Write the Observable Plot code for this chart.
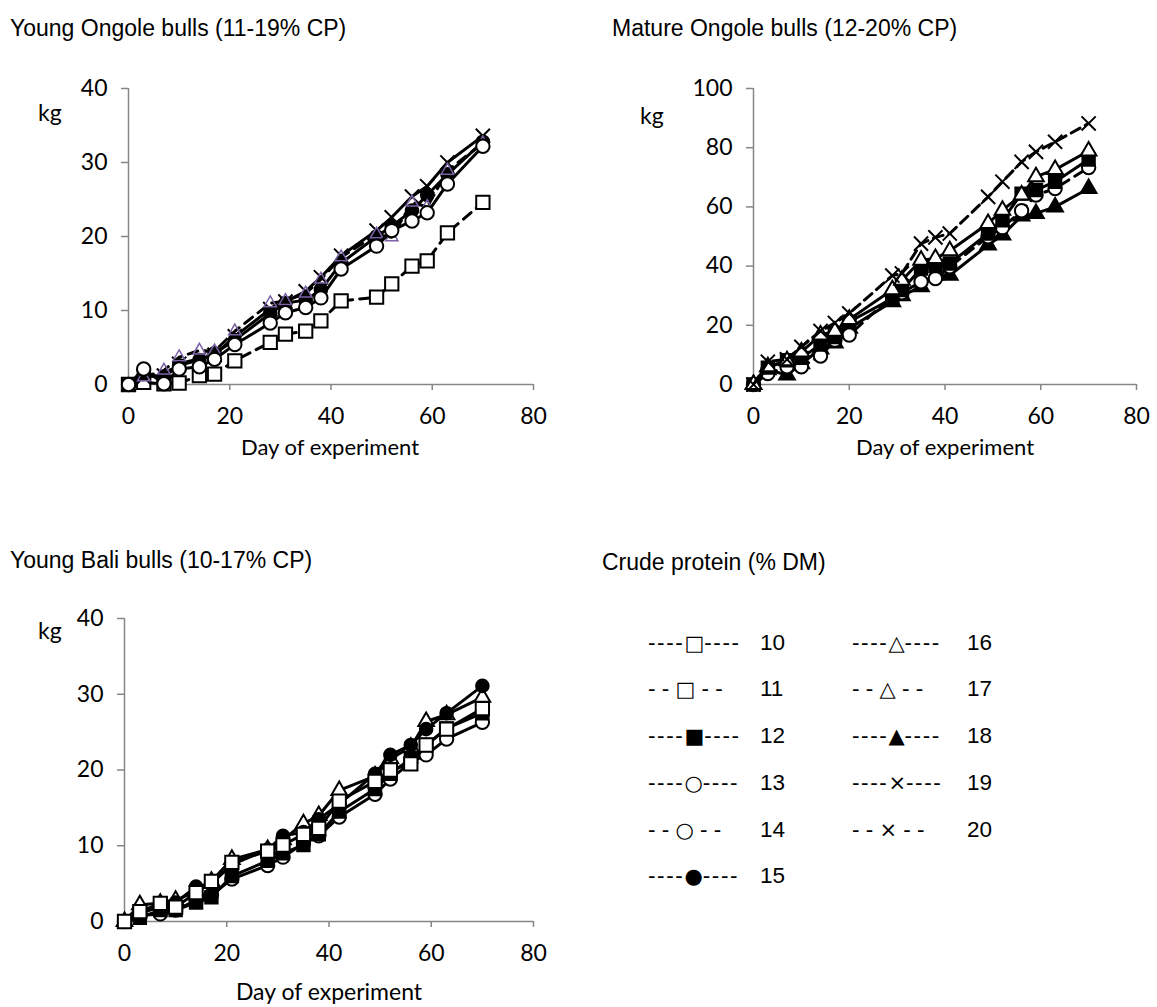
<!DOCTYPE html>
<html><head><meta charset="utf-8">
<script src="https://cdn.jsdelivr.net/npm/d3@7"></script>
<script src="https://cdn.jsdelivr.net/npm/@observablehq/plot@0.6"></script>
<style>
body{margin:0;background:#fff;}
#root{position:relative;width:1157px;height:1007px;overflow:hidden;background:#fff;}
#root > svg{position:absolute;overflow:visible;}
</style></head><body><div id="root"></div>
<script>
// ---------- data ----------
const daysA = [0,3,7,10,14,17,21,28,31,35,38,42,49,52,56,59,63,70];
const daysB = [0,3,7,10,14,17,20,29,31,35,38,41,49,52,56,59,63,70];

// Young Ongole bulls (11-19% CP)
const yo11 = [0,0.3,0.1,0.2,1.2,1.4,3.2,5.7,6.8,7.2,8.6,11.3,11.8,13.6,16.0,16.7,20.5,24.6];
const yo13 = [0,2.1,0.1,2.1,2.4,3.4,5.4,8.3,9.7,10.4,11.7,15.6,18.7,20.8,22.1,23.2,27.1,32.2];
const yo15 = [0,1.4,1.0,2.6,3.3,4.2,6.0,9.6,11.0,11.4,12.8,16.4,20.0,21.4,23.5,25.6,28.4,32.8];
const yo17 = [0,1.0,1.9,3.7,4.6,4.5,7.2,11.0,11.3,12.3,14.2,17.2,20.3,19.9,24.6,24.0,28.9,32.6];
const yo19 = [0,1.0,1.2,2.8,3.5,4.0,6.5,10.2,11.2,12.6,14.5,17.4,20.8,22.6,25.4,26.8,30.0,33.6];

// Mature Ongole bulls (12-20% CP)
const mo12 = [0,5.7,8.2,9.0,13.5,16.0,21.2,29.0,31.9,39.2,40.0,40.9,51.0,55.5,64.5,65.7,68.5,76.0];
const mo14 = [0,3.7,6.0,6.0,9.6,15.0,16.7,30.0,31.0,34.7,35.8,39.8,49.9,53.0,58.7,64.0,66.2,73.3];
const mo16 = [0,6.0,8.0,11.0,16.7,18.0,22.0,32.0,35.2,42.0,42.6,45.2,54.4,58.9,64.0,70.2,72.6,78.9];
const mo18 = [0,5.0,3.2,7.0,12.0,14.0,19.0,28.0,30.0,33.0,37.0,36.9,47.1,50.5,56.9,57.8,60.0,66.2];
const mo20 = [0,7.7,8.5,12.7,18.1,20.8,24.0,36.8,37.5,47.6,49.7,51.0,63.4,68.5,75.2,78.6,82.0,88.2];

// Young Bali bulls (10-17% CP)
const yb10 = [0,1.3,2.4,1.9,3.8,5.3,7.8,9.3,10.1,11.5,12.3,15.9,18.5,20.0,20.8,23.3,25.4,28.1];
const yb12 = [0,0.5,1.5,1.5,2.5,3.2,6.0,8.0,9.0,10.1,11.5,14.5,17.5,19.5,21.5,23.3,25.5,27.5];
const yb13 = [0,0.8,1.0,1.5,2.8,3.5,5.6,7.4,8.5,10.3,11.3,13.8,16.8,18.8,21.0,22.0,24.1,26.3];
const yb15 = [0,1.0,2.0,2.5,4.6,5.0,7.5,9.5,11.3,11.8,13.5,15.5,19.5,22.0,23.3,25.4,27.5,31.1];
const yb16 = [0,2.2,2.4,2.8,4.0,5.3,8.2,9.5,10.8,12.9,14.0,17.3,19.2,21.5,23.0,26.4,27.3,29.6];

const xTicks = [0,20,40,60,80];
const yTicksSmall = [0,10,20,30,40];
const yTicksLarge = [0,20,40,60,80,100];

const titles = ["Young Ongole bulls (11-19% CP)","Mature Ongole bulls (12-20% CP)","Young Bali bulls (10-17% CP)","Crude protein (% DM)"];
const xLabel = "Day of experiment";
const yLabel = "kg";

const legendLevels = [10,11,12,13,14,15,16,17,18,19,20];
const legendGlyphs = ["\u25A1","\u25A1","\u25A0","\u25CB","\u25CB","\u25CF","\u25B3","\u25B3","\u25B2","\u00D7","\u00D7"];
const legendDashed = [false,true,false,false,true,false,false,true,false,false,true];

// ---------- styles per CP level ----------
const styleByCP = {
  10:{symbol:"square",  fill:"white", stroke:"black", r:7.5, dash:null},
  11:{symbol:"square",  fill:"white", stroke:"black", r:7.5, dash:"10,7"},
  12:{symbol:"square",  fill:"black", stroke:"black", r:7.0, dash:null},
  13:{symbol:"circle",  fill:"white", stroke:"black", r:6.7, dash:null},
  14:{symbol:"circle",  fill:"white", stroke:"black", r:6.7, dash:"10,7"},
  15:{symbol:"circle",  fill:"black", stroke:"black", r:6.3, dash:null},
  16:{symbol:"triangle",fill:"white", stroke:"black", r:5.8, dash:null},
  17:{symbol:"triangle",fill:"none",  stroke:"#7b62a6", r:4.6, dash:"10,7", sw:1.5},
  18:{symbol:"triangle",fill:"black", stroke:"black", r:5.8, dash:null},
  19:{symbol:"times",   fill:"none",  stroke:"black", r:6.5, dash:null},
  20:{symbol:"times",   fill:"none",  stroke:"black", r:6.5, dash:"10,6"}
};

const GRAY = "#868686";
const root = document.getElementById("root");

function panel({days, series, yMax, yTicks, left, top, width, height, ml, mr, mt, mb}) {
  const marks = [
    Plot.ruleX([0], {y1: 0, y2: yMax, stroke: GRAY, strokeWidth: 1.5}),
    Plot.ruleY([0], {x1: 0, x2: 80, stroke: GRAY, strokeWidth: 1.5}),
    Plot.axisX({ticks: xTicks, tickSize: 6, tickPadding: 17, stroke: GRAY, strokeWidth: 1.5, fill: "black", label: null, tickFormat: d => String(d)}),
    Plot.axisY({ticks: yTicks, tickSize: 7, tickPadding: 14, stroke: GRAY, strokeWidth: 1.5, fill: "black", label: null, tickFormat: d => String(d)})
  ];
  for (const [cp, vals] of series) {
    const st = styleByCP[cp];
    const data = days.map((d, i) => ({day: d, v: vals[i]}));
    marks.push(Plot.line(data, {x: "day", y: "v", stroke: "black", strokeWidth: 3, strokeDasharray: st.dash || undefined, strokeLinejoin: "round"}));
    marks.push(Plot.dot(data, {x: "day", y: "v", symbol: st.symbol, r: st.r, fill: st.fill, stroke: st.stroke, strokeWidth: st.sw || 2}));
  }
  const svg = Plot.plot({
    width, height, marginLeft: ml, marginRight: mr, marginTop: mt, marginBottom: mb,
    x: {domain: [0, 80], axis: null},
    y: {domain: [0, yMax], axis: null},
    style: {fontFamily: "Lato, 'Open Sans', sans-serif", fontSize: "23px", color: "black", background: "transparent", overflow: "visible"},
    marks
  });
  svg.style.left = left + "px";
  svg.style.top = top + "px";
  root.appendChild(svg);
}

panel({days: daysA, series: [[11, yo11], [19, yo19], [15, yo15], [17, yo17], [13, yo13]],
  yMax: 40, yTicks: yTicksSmall, left: 0, top: 0, width: 580, height: 470, ml: 128, mr: 47, mt: 88, mb: 86});
panel({days: daysB, series: [[18, mo18], [14, mo14], [12, mo12], [16, mo16], [20, mo20]],
  yMax: 100, yTicks: yTicksLarge, left: 580, top: 0, width: 577, height: 470, ml: 173, mr: 21, mt: 88, mb: 86});
panel({days: daysA, series: [[13, yb13], [12, yb12], [16, yb16], [15, yb15], [10, yb10]],
  yMax: 40, yTicks: yTicksSmall, left: 0, top: 530, width: 580, height: 477, ml: 124, mr: 47, mt: 88, mb: 86});

// ---------- text overlay ----------
const ov = d3.select(root).append("svg").attr("width", 1157).attr("height", 1007).style("left", "0px").style("top", "0px");
const arial = "'Liberation Sans', Arial, sans-serif";
const calib = "Lato, 'Open Sans', sans-serif";
const titlePos = [[10, 36], [612, 36], [10, 568], [602, 570]];
titles.forEach((t, i) => ov.append("text").attr("x", titlePos[i][0]).attr("y", titlePos[i][1])
  .attr("font-family", arial).attr("font-size", 23).text(t));
[[38, 121], [640, 124], [38, 639]].forEach(([x, y]) => ov.append("text").attr("x", x).attr("y", y)
  .attr("font-family", calib).attr("font-size", 23).text(yLabel));
[[330, 455, 22], [945, 455, 22], [329, 1000, 23]].forEach(([x, y, fs]) => ov.append("text").attr("x", x).attr("y", y)
  .attr("text-anchor", "middle").attr("font-family", calib).attr("font-size", fs).text(xLabel));

// legend
const rowY = [650, 696, 743, 790, 837, 883];
legendLevels.forEach((lvl, i) => {
  const col = i < 6 ? 0 : 1;
  const row = col === 0 ? i : i - 6;
  const x0 = col === 0 ? 648 : 852;
  const xn = col === 0 ? 760 : 967;
  const y = rowY[row];
  const t = ov.append("text").attr("x", x0).attr("y", y).attr("font-family", arial).attr("font-size", 22.5).attr("xml:space", "preserve");
  const side = legendDashed[i] ? "- - " : "----";
  const side2 = legendDashed[i] ? " - -" : "----";
  t.append("tspan").attr("letter-spacing", legendDashed[i] ? 0 : 1.6).text(side);
  t.append("tspan").attr("font-family", "'DejaVu Sans', sans-serif").attr("font-size", 21).text(legendGlyphs[i]);
  t.append("tspan").attr("letter-spacing", legendDashed[i] ? 0 : 1.6).text(side2);
  ov.append("text").attr("x", xn).attr("y", y).attr("font-family", arial).attr("font-size", 22.5).text(String(lvl));
});
</script>
</body></html>
